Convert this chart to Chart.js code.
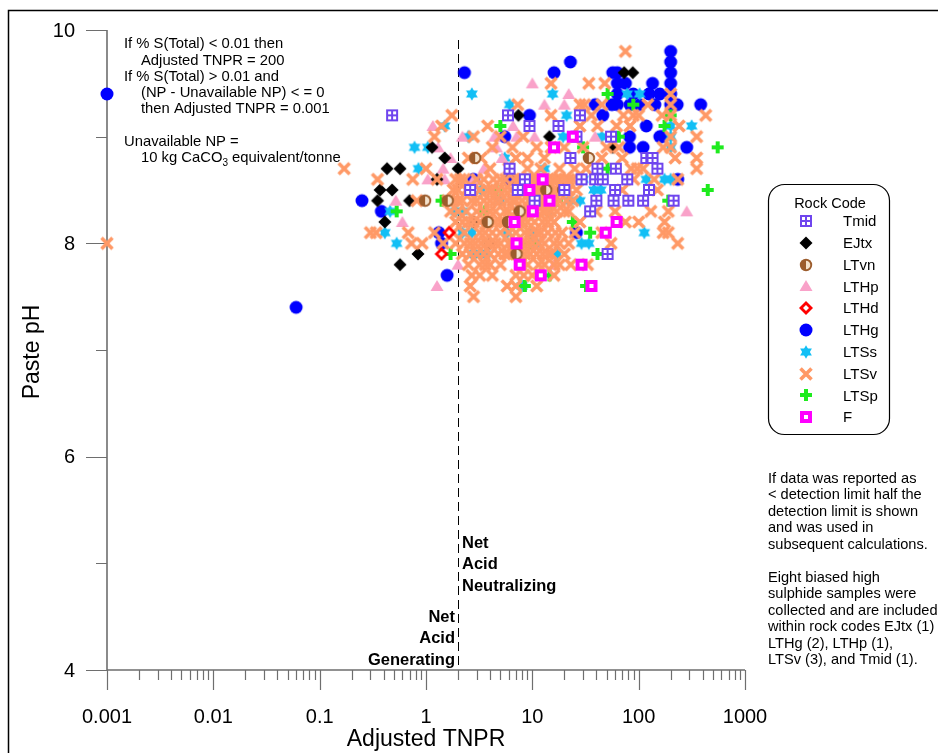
<!DOCTYPE html>
<html>
<head>
<meta charset="utf-8">
<script src="https://cdn.jsdelivr.net/npm/chart.js@4.4.1/dist/chart.umd.min.js"></script>
<style>
    html, body { margin: 0; padding: 0; background: #fff; overflow: hidden; }
    canvas { display: block; }
</style>
</head>
<body>
<canvas id="chart" width="938" height="753"></canvas>
<script>
// Paste pH vs Adjusted TNPR: [TNPR, pH]
const rockCodes = ['Tmid', 'EJtx', 'LTvn', 'LTHp', 'LTHd', 'LTHg', 'LTSs', 'LTSv', 'LTSp', 'F'];
const xTickLabels = ['0.001', '0.01', '0.1', '1', '10', '100', '1000'];
const yTickLabels = ['4', '6', '8', '10'];

const tmid = [[0.48, 9.2], [2.6, 8.5], [5.9, 9.2], [28, 9.2], [9.4, 9.1], [17.6, 9.1], [26, 9.0], [55, 9.0],
    [22.8, 8.8], [118, 8.8], [135, 8.8], [6.1, 8.7], [41, 8.7], [61, 8.7], [29, 8.6], [39, 8.6], [46, 8.6],
    [78, 8.6], [7.3, 8.5], [20, 8.5], [60, 8.5], [125, 8.5], [10.5, 8.4], [40, 8.4], [58, 8.4], [80, 8.4],
    [110, 8.4], [213, 8.4], [51, 7.9], [8.5, 8.6], [35, 8.3], [150, 8.7]];
const ejtx = [[0.43, 8.7], [0.57, 8.7], [2.0, 8.7], [0.37, 8.5], [0.48, 8.5], [0.35, 8.4], [0.7, 8.4],
    [0.41, 8.2], [0.84, 7.9], [0.57, 7.8], [1.14, 8.9], [1.5, 8.8], [1.27, 8.6], [73, 9.6], [88, 9.6],
    [7.4, 9.2], [14.5, 9.0], [57, 8.9], [4.0, 8.0], [2.8, 8.2]];
const ltvn = [[0.98, 8.4], [1.6, 8.4], [2.9, 8.8], [34, 8.8], [13.5, 8.5], [19.5, 8.5], [7.6, 8.3],
    [3.8, 8.2], [5.9, 8.2], [7.1, 7.9]];
const lthp = [[1.16, 9.1], [2.2, 9.0], [4.4, 9.0], [4.6, 8.9], [1.3, 8.9], [1.7, 8.8], [1.5, 8.6],
    [1.04, 8.6], [1.45, 8.7], [0.52, 8.4], [0.6, 8.2], [2.0, 7.8], [1.27, 7.6], [10, 9.5], [22, 9.4],
    [13, 9.3], [20, 9.3], [7.1, 9.0], [39, 9.0], [16, 7.8], [283, 8.3], [6.6, 9.1], [10.5, 9.0],
    [2.8, 8.6], [3.5, 8.7], [5.2, 8.8]];
const lthd = [[1.65, 8.1], [1.4, 7.9]];
const lthg = [[0.001, 9.4], [0.06, 7.4], [0.25, 8.4], [0.38, 8.3], [1.58, 7.7], [1.32, 8.1], [2.3, 9.6],
    [22.8, 9.7], [16, 9.6], [57, 9.6], [63, 9.6], [200, 9.8], [200, 9.7], [200, 9.6], [200, 9.5],
    [200, 9.4], [200, 9.3], [63, 9.5], [75, 9.5], [135, 9.5], [63, 9.4], [89, 9.4], [125, 9.4],
    [158, 9.4], [39, 9.3], [56, 9.3], [63, 9.3], [83, 9.3], [102, 9.3], [142, 9.3], [230, 9.3],
    [383, 9.3], [9.4, 9.2], [46, 9.2], [5.5, 9.0], [82, 9.0], [166, 9.0], [82, 8.9], [110, 8.9],
    [283, 8.9], [118, 9.1], [158, 9.0], [233, 8.6], [6.1, 8.6], [26, 8.1], [2.8, 8.6], [1.4, 8.0]];
const ltss = [[2.7, 9.4], [1.5, 9.1], [2.5, 9.0], [0.78, 8.9], [1.04, 8.9], [0.85, 8.7], [0.46, 8.3],
    [0.41, 8.1], [0.53, 8.0], [15.5, 9.4], [78, 9.4], [102, 9.4], [6.1, 9.3], [21, 9.2], [19.5, 9.0],
    [315, 9.1], [200, 9.1], [200, 9.0], [200, 8.9], [118, 8.6], [175, 8.6], [38, 8.5], [44, 8.5],
    [22, 8.4], [28, 8.4], [5.8, 8.1], [113, 8.1], [3.6, 7.9], [29, 8.0], [34, 8.0], [17, 7.9], [8, 7.6],
    [2.7, 7.9], [2.9, 7.9], [3.3, 7.9], [2.2, 8.1], [2.7, 8.1], [1.9, 8.3], [2.2, 8.3], [3.9, 8.0],
    [9, 8.5], [11, 8.0], [14, 8.3], [30, 8.6], [5, 8.4], [7, 8.2], [10, 8.1], [13, 8.7], [5.5, 8.8],
    [45, 9.0], [3.3, 8.5], [200, 8.6]];
const ltsv = [[0.001, 8.0], [0.17, 8.7], [0.35, 8.6], [0.75, 8.6], [1.0, 8.7], [1.27, 8.6], [0.82, 8.4],
    [0.3, 8.1], [0.34, 8.1], [0.68, 8.1], [1.2, 8.1], [0.73, 8.0], [0.92, 8.0], [1.4, 9.1], [1.2, 9.0],
    [1.75, 9.2], [1.45, 8.0], [1.8, 8.4],
    [2.8, 9.0], [3.8, 9.1], [2.7, 7.7], [2.6, 7.6], [2.8, 7.5], [2.5, 8.8], [2.7, 8.5], [2.2, 8.4],
    [2.7, 8.4], [3.0, 8.4], [3.0, 8.3], [2.5, 8.2], [2.8, 8.2], [2.6, 8.0], [2.9, 8.0], [3.3, 8.0],
    [2.2, 8.2], [3.5, 8.6], [3.3, 8.8], [2.3, 8.6], [3.0, 7.9], [2.2, 7.9], [3.6, 7.8],
    [4.2, 8.9], [5, 9.0], [6.5, 8.9], [8.2, 9.0], [9, 8.8], [11, 8.9], [13, 8.8], [15, 8.9], [18, 8.7],
    [20, 8.9], [25, 8.7], [30, 8.9],
    [4, 8.7], [5, 8.6], [6, 8.7], [7, 8.8], [8, 8.6], [9, 8.7], [10, 8.6], [12, 8.7], [14, 8.6],
    [16, 8.5], [18, 8.6], [22, 8.6], [26, 8.5], [32, 8.7],
    [3.8, 8.5], [4.5, 8.4], [5.5, 8.5], [6.5, 8.4], [7.5, 8.5], [8.5, 8.3], [10, 8.4], [11.5, 8.5],
    [13, 8.4], [15, 8.3], [17, 8.5], [20, 8.3], [24, 8.4], [28, 8.2],
    [4, 8.3], [5, 8.2], [6, 8.3], [7, 8.1], [8, 8.2], [9, 8.0], [10.5, 8.2], [12, 8.1], [14, 8.2],
    [16, 8.0], [19, 8.1], [22, 8.0], [25, 8.1],
    [4.5, 8.0], [5.5, 7.9], [6.5, 8.0], [7.5, 7.9], [9, 7.8], [11, 7.9], [13, 7.8], [15, 7.9],
    [18, 7.8], [20, 7.9], [23, 7.8], [33, 7.8], [5, 7.8], [5.8, 7.6], [7, 7.7], [10, 7.7],
    [40, 8.3], [45, 8.1], [55, 8.0], [60, 8.3], [70, 8.5], [75, 8.2], [90, 8.6], [100, 8.2], [130, 8.3],
    [150, 8.5], [175, 8.2], [190, 8.3], [170, 8.1], [233, 8.0],
    [75, 9.8], [15, 9.5], [34, 9.5], [48, 9.5], [200, 9.4], [7.3, 9.3], [28, 9.3], [31, 9.3], [45, 9.3],
    [122, 9.3], [200, 9.3], [15, 9.2], [36, 9.2], [72, 9.2], [89, 9.2], [100, 9.2], [166, 9.2],
    [200, 9.2], [427, 9.2], [28, 9.1], [41, 9.1], [62, 9.1], [83, 9.1], [240, 9.1], [200, 9.0],
    [351, 9.0], [200, 8.9], [170, 8.9], [351, 8.8], [351, 8.7], [220, 8.8], [50, 8.9], [65, 8.9],
    [85, 8.7], [97, 8.7], [110, 8.7], [140, 8.6], [45, 8.8], [70, 8.8], [233, 8.6], [190, 8.1],
    // dense band between TNPR 1.5 and 30
    [1.9, 8.6], [2.1, 8.6], [3.0, 8.6], [4.3, 8.6], [5.6, 8.6], [6.8, 8.6], [7.5, 8.6], [9.5, 8.6],
    [11, 8.6], [13, 8.6], [15.5, 8.6], [17, 8.6], [20, 8.6], [24, 8.6],
    [1.8, 8.5], [2.0, 8.5], [2.4, 8.5], [3.2, 8.5], [4.2, 8.5], [4.8, 8.5], [6.2, 8.5], [8.2, 8.5],
    [9.5, 8.5], [10.8, 8.5], [12.5, 8.5], [14, 8.5], [19, 8.5], [22, 8.5],
    [1.6, 8.4], [2.0, 8.4], [3.5, 8.4], [4.0, 8.4], [5.0, 8.4], [5.8, 8.4], [7.0, 8.4], [8.0, 8.4],
    [9.2, 8.4], [11, 8.4], [12, 8.4], [14, 8.4], [16, 8.4], [18, 8.4], [21, 8.4],
    [1.7, 8.3], [2.0, 8.3], [2.4, 8.3], [3.5, 8.3], [4.5, 8.3], [5.5, 8.3], [7.0, 8.3], [8.0, 8.3],
    [9.5, 8.3], [11, 8.3], [12.5, 8.3], [13.5, 8.3], [17, 8.3], [22, 8.3],
    [1.9, 8.2], [3.2, 8.2], [3.8, 8.2], [4.5, 8.2], [5.5, 8.2], [6.5, 8.2], [7.5, 8.2], [9, 8.2],
    [12.5, 8.2], [16, 8.2],
    [1.8, 8.1], [2.3, 8.1], [3.2, 8.1], [3.6, 8.1], [4.2, 8.1], [5, 8.1], [6, 8.1], [8.5, 8.1],
    [9.5, 8.1], [11, 8.1], [14, 8.1], [16.5, 8.1],
    [1.9, 8.0], [2.3, 8.0], [3.7, 8.0], [4, 8.0], [5, 8.0], [6, 8.0], [7, 8.0], [8, 8.0], [10, 8.0],
    [11.5, 8.0], [13, 8.0], [18, 8.0],
    [2.6, 7.9], [3.5, 7.9], [4, 7.9], [4.8, 7.9], [6, 7.9], [7, 7.9], [8.5, 7.9], [9.5, 7.9],
    [12.5, 7.9], [14, 7.9],
    [2.5, 7.8], [3.2, 7.8], [4, 7.8], [7.8, 7.8], [11.5, 7.8], [16, 7.8],
    [3.2, 7.7], [4.2, 7.7], [8.3, 7.7], [16, 7.7], [11, 7.6], [7, 7.6], [7, 7.5]];
const ltsp = [[5.0, 9.1], [51, 9.4], [89, 9.3], [175, 9.1], [553, 8.9], [446, 8.5], [190, 8.4], [51, 8.7],
    [17, 8.4], [24, 8.2], [35, 8.1], [41, 7.9], [14.5, 7.7], [8.5, 7.6], [32, 7.6], [3.6, 8.3], [1.4, 8.4],
    [0.53, 8.3], [1.7, 7.9], [4.6, 8.5], [9.5, 8.0], [12, 8.6], [30, 8.9], [200, 9.2], [65, 9.0]];
const fCode = [[24, 9.0], [16, 8.9], [12.5, 8.6], [9.4, 8.5], [14.5, 8.4], [10.1, 8.3], [6.8, 8.2],
    [62, 8.2], [49, 8.1], [7.1, 8.0], [7.6, 7.8], [29, 7.8], [12, 7.7], [36, 7.6]];

const seriesData = [tmid, ejtx, ltvn, lthp, lthd, lthg, ltss, ltsv, ltsp, fCode];
// lower order is painted on top
const drawOrder = [1, 5, 2, 6, 3, 9, 8, 4, 7, 0];

const FONT = '"Liberation Sans", Arial, sans-serif';

function makeMarker(code) {
    const c = document.createElement('canvas');
    c.width = 16;
    c.height = 16;
    const g = c.getContext('2d');
    const diamond = (r) => {
        g.beginPath();
        g.moveTo(8, 8 - r); g.lineTo(8 + r, 8); g.lineTo(8, 8 + r); g.lineTo(8 - r, 8);
        g.closePath();
        g.fill();
    };
    switch (code) {
        case 'Tmid':
            g.fillStyle = '#6f45ee';
            g.fillRect(2, 2, 12, 12);
            g.fillStyle = '#fff';
            g.fillRect(4, 4, 3, 3); g.fillRect(9, 4, 3, 3);
            g.fillRect(4, 9, 3, 3); g.fillRect(9, 9, 3, 3);
            break;
        case 'EJtx':
            g.fillStyle = '#000';
            diamond(6.5);
            break;
        case 'LTvn':
            g.fillStyle = '#9c5c2c';
            g.beginPath(); g.arc(8, 8, 6.2, 0, Math.PI * 2); g.fill();
            g.fillStyle = '#f4e2cc';
            g.beginPath(); g.arc(8, 8, 4.3, -Math.PI / 2, Math.PI / 2); g.closePath(); g.fill();
            break;
        case 'LTHp':
            g.fillStyle = '#f9a2c9';
            g.beginPath(); g.moveTo(8, 2); g.lineTo(14.5, 13); g.lineTo(1.5, 13); g.closePath(); g.fill();
            break;
        case 'LTHd':
            g.fillStyle = '#ff0000';
            diamond(7);
            g.fillStyle = '#fff';
            diamond(3);
            break;
        case 'LTHg':
            g.fillStyle = '#0000ff';
            g.beginPath(); g.arc(8, 8, 6.5, 0, Math.PI * 2); g.fill();
            break;
        case 'LTSs': {
            g.fillStyle = '#12bff5';
            [-90, 90].forEach(a0 => {
                g.beginPath();
                for (let k = 0; k < 3; k++) {
                    const a = (a0 + k * 120) * Math.PI / 180;
                    g.lineTo(8 + 6.8 * Math.cos(a), 8 + 6.8 * Math.sin(a));
                }
                g.closePath();
                g.fill();
            });
            break;
        }
        case 'LTSv':
            g.strokeStyle = '#ff9966';
            g.lineWidth = 3.6;
            g.beginPath();
            g.moveTo(2.5, 2.5); g.lineTo(13.5, 13.5);
            g.moveTo(13.5, 2.5); g.lineTo(2.5, 13.5);
            g.stroke();
            break;
        case 'LTSp':
            g.fillStyle = '#1eeb1e';
            g.fillRect(6, 2, 4, 12);
            g.fillRect(2, 6, 12, 4);
            break;
        case 'F':
            g.fillStyle = '#ff00ff';
            g.fillRect(2, 2, 12, 12);
            g.fillStyle = '#fff';
            g.fillRect(6, 6, 4, 4);
            break;
    }
    return c;
}

const markers = rockCodes.map(makeMarker);

const datasets = rockCodes.map((code, i) => ({
    label: code,
    data: seriesData[i].map(p => ({ x: p[0], y: p[1] })),
    pointStyle: markers[i],
    pointRadius: 6,
    order: drawOrder[i],
    clip: false
}));

const decorPlugin = {
    id: 'decor',
    beforeDatasetsDraw(chart) {
        const ctx = chart.ctx;
        const xs = chart.scales.x;
        const ys = chart.scales.y;
        const area = chart.chartArea;
        ctx.save();

        // outer frame
        ctx.strokeStyle = '#000';
        ctx.lineWidth = 1.5;
        ctx.beginPath();
        ctx.moveTo(8.5, 760); ctx.lineTo(8.5, 10.5); ctx.lineTo(945, 10.5);
        ctx.stroke();

        // axes
        ctx.strokeStyle = '#6e6e6e';
        ctx.lineWidth = 1.6;
        ctx.beginPath();
        ctx.moveTo(area.left, area.top); ctx.lineTo(area.left, area.bottom); ctx.lineTo(area.right, area.bottom);
        ctx.stroke();

        ctx.lineWidth = 1.2;
        ctx.beginPath();
        for (let v = 4; v <= 10; v++) {
            const py = Math.round(ys.getPixelForValue(v)) + 0.5;
            const len = v % 2 === 0 ? 21 : 11;
            ctx.moveTo(area.left - len, py); ctx.lineTo(area.left, py);
        }
        for (let d = -3; d <= 3; d++) {
            for (let m = 1; m <= 9; m++) {
                if (d === 3 && m > 1) break;
                const px = Math.round(xs.getPixelForValue(m * Math.pow(10, d))) + 0.5;
                const len = m === 1 ? 20 : 10;
                ctx.moveTo(px, area.bottom); ctx.lineTo(px, area.bottom + len);
            }
        }
        ctx.stroke();

        // tick labels
        ctx.fillStyle = '#000';
        ctx.font = '20px ' + FONT;
        ctx.textAlign = 'right';
        ctx.textBaseline = 'middle';
        yTickLabels.forEach(t => ctx.fillText(t, area.left - 32, ys.getPixelForValue(Number(t)) + 1));
        ctx.textAlign = 'center';
        xTickLabels.forEach(t => ctx.fillText(t, xs.getPixelForValue(Number(t)), area.bottom + 47));

        // axis titles
        ctx.font = '23px ' + FONT;
        ctx.fillText('Adjusted TNPR', (area.left + area.right) / 2, area.bottom + 70);
        ctx.save();
        ctx.translate(33, (area.top + area.bottom) / 2 + 2);
        ctx.rotate(-Math.PI / 2);
        ctx.fillText('Paste pH', 0, 0);
        ctx.restore();

        // TNPR = 2 divider
        const x2 = xs.getPixelForValue(2);
        ctx.strokeStyle = '#000';
        ctx.lineWidth = 1;
        ctx.setLineDash([9, 5]);
        ctx.beginPath();
        ctx.moveTo(Math.round(x2) + 0.5, 40); ctx.lineTo(Math.round(x2) + 0.5, area.bottom);
        ctx.stroke();
        ctx.setLineDash([]);

        ctx.font = 'bold 16.5px ' + FONT;
        ctx.textAlign = 'left';
        ['Net', 'Acid', 'Neutralizing'].forEach((t, i) => ctx.fillText(t, x2 + 4, 543 + i * 21.5));
        ctx.textAlign = 'right';
        ['Net', 'Acid', 'Generating'].forEach((t, i) => ctx.fillText(t, x2 - 3, 617 + i * 21.5));

        // notes, top left
        ctx.font = '14.8px ' + FONT;
        ctx.textAlign = 'left';
        const notes = [
            [124, 44, 'If % S(Total) < 0.01 then'],
            [141, 61, 'Adjusted TNPR = 200'],
            [124, 77, 'If % S(Total) > 0.01 and'],
            [141, 93, '(NP - Unavailable NP) < = 0'],
            [141, 109, 'then Adjusted TNPR = 0.001'],
            [124, 142, 'Unavailable NP =']
        ];
        notes.forEach(n => ctx.fillText(n[2], n[0], n[1]));
        let cx = 141;
        ctx.fillText('10 kg CaCO', cx, 158);
        cx += ctx.measureText('10 kg CaCO').width;
        ctx.font = '10px ' + FONT;
        ctx.fillText('3', cx, 163);
        cx += ctx.measureText('3').width;
        ctx.font = '14.8px ' + FONT;
        ctx.fillText(' equivalent/tonne', cx, 158);

        // notes, right
        const right = [
            'If data was reported as', '< detection limit half the', 'detection limit is shown',
            'and was used in', 'subsequent calculations.', '',
            'Eight biased high', 'sulphide samples were', 'collected and are included',
            'within rock codes EJtx (1)', 'LTHg (2), LTHp (1),', 'LTSv (3), and Tmid (1).'
        ];
        ctx.font = '14.6px ' + FONT;
        right.forEach((t, i) => ctx.fillText(t, 768, 479 + i * 16.45));

        // legend
        ctx.strokeStyle = '#000';
        ctx.lineWidth = 1.2;
        ctx.beginPath();
        ctx.roundRect(768.5, 184.5, 121, 250, 16);
        ctx.stroke();
        ctx.font = '14.5px ' + FONT;
        ctx.textAlign = 'center';
        ctx.fillText('Rock Code', 830, 204);
        ctx.textAlign = 'left';
        ctx.font = '15px ' + FONT;
        rockCodes.forEach((code, i) => {
            const ly = 221 + i * 21.8;
            ctx.drawImage(markers[i], 806 - 8, Math.round(ly) - 8);
            ctx.fillText(code, 843, ly + 1);
        });

        ctx.restore();
    }
};

new Chart(document.getElementById('chart'), {
    type: 'scatter',
    data: { datasets },
    options: {
        responsive: false,
        animation: false,
        devicePixelRatio: 1,
        layout: { padding: { left: 107, top: 30, right: 193, bottom: 83 } },
        scales: {
            x: { type: 'logarithmic', min: 0.001, max: 1000, display: false },
            y: { type: 'linear', min: 4, max: 10, display: false }
        },
        plugins: {
            legend: { display: false },
            tooltip: { enabled: false }
        }
    },
    plugins: [decorPlugin]
});
</script>
</body>
</html>
